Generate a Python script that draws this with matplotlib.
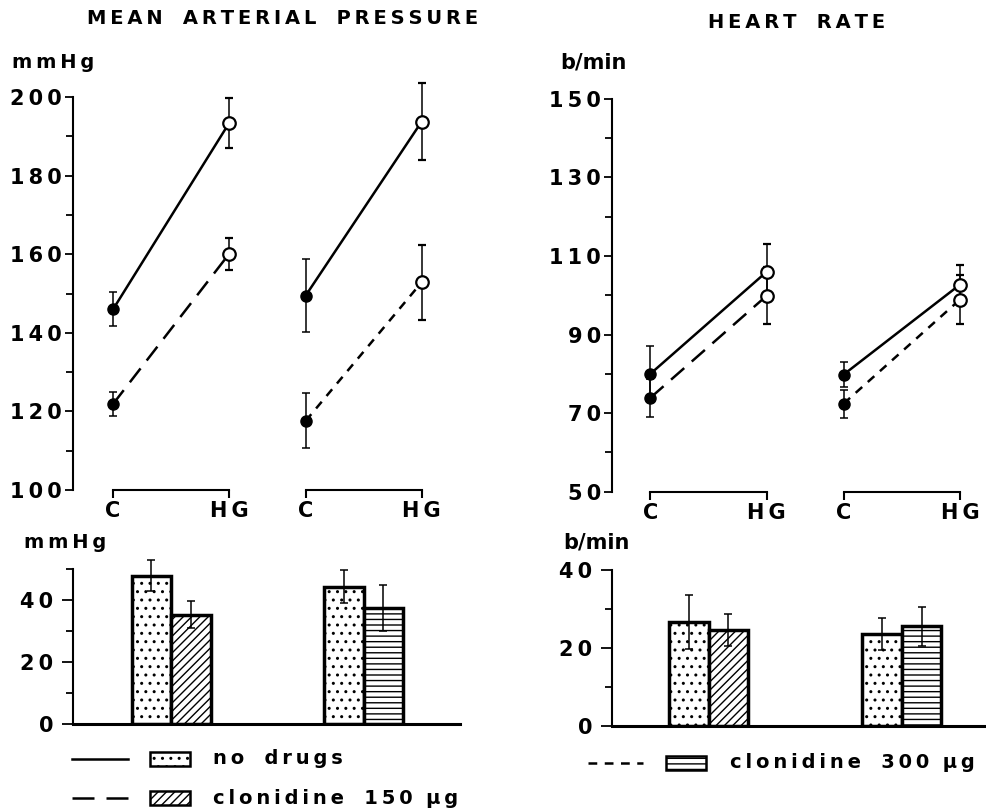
#!/usr/bin/env python3
import matplotlib
matplotlib.use('Agg')
import matplotlib.pyplot as plt
import numpy as np
from matplotlib.lines import Line2D
from matplotlib.patches import Rectangle
from matplotlib.ticker import MultipleLocator

plt.rcParams['font.family'] = 'DejaVu Sans'
plt.rcParams['font.weight'] = 'bold'
plt.rcParams['hatch.linewidth'] = 1.0

# x positions of the two experiments (C and HG)
c_pos = np.array([0.0, 1.66])
hg_pos = c_pos + 1.0
time_labels = ['C', 'HG', 'C', 'HG']

# Mean arterial pressure (mmHg): [exp 1 (vs clonidine 150), exp 2 (vs clonidine 300)]
map_c_nodrug = [146.0, 149.5]
map_c_nodrug_err = [4.3, 9.2]
map_hg_nodrug = [193.4, 193.8]
map_hg_nodrug_err = [6.4, 9.8]
map_c_clon = [121.9, 117.6]
map_c_clon_err = [3.0, 7.0]
map_hg_clon = [160.1, 152.9]
map_hg_clon_err = [4.1, 9.6]

# Heart rate (b/min)
hr_c_nodrug = [80.0, 79.8]
hr_c_nodrug_err = [7.0, 3.2]
hr_hg_nodrug = [106.0, 102.7]
hr_hg_nodrug_err = [7.0, 5.0]
hr_c_clon = [73.9, 72.4]
hr_c_clon_err = [4.9, 3.6]
hr_hg_clon = [99.9, 98.9]
hr_hg_clon_err = [7.2, 6.2]

# Increase during handgrip
map_delta_nodrug = [47.7, 44.2]
map_delta_nodrug_err = [5.0, 5.2]
map_delta_clon = [35.2, 37.4]
map_delta_clon_err = [4.3, 7.4]
hr_delta_nodrug = [26.7, 23.6]
hr_delta_nodrug_err = [7.0, 4.0]
hr_delta_clon = [24.6, 25.6]
hr_delta_clon_err = [4.1, 5.0]

clon_dashes = [(0, (7, 4)), (0, (3.5, 3))]   # 150 ug long dashes, 300 ug short dashes
legend_dashes = [(0, (8.8, 4.8)), (0, (3.5, 3))]
clon_hatch = ['////', '---']
FS = 14


def spaced(s):
    return '\u2009'.join(s)


def unclip(container):
    for part in container.lines:
        if part is None:
            continue
        for a in (part if isinstance(part, tuple) else [part]):
            a.set_clip_on(False)


def line_panel(ax, c_nd, c_nd_e, hg_nd, hg_nd_e, c_cl, c_cl_e, hg_cl, hg_cl_e,
               ylim, major, minor):
    for i in range(2):
        xs = [c_pos[i], hg_pos[i]]
        ax.plot(xs, [c_nd[i], hg_nd[i]], color='black', lw=1.8, zorder=2)
        ax.plot(xs, [c_cl[i], hg_cl[i]], color='black', lw=1.8,
                linestyle=clon_dashes[i], zorder=2)
        eb = ax.errorbar([xs[0]] * 2, [c_nd[i], c_cl[i]], yerr=[c_nd_e[i], c_cl_e[i]],
                         fmt='o', ms=8, color='black', mfc='black', ecolor='black',
                         elinewidth=1.1, capsize=3, capthick=1.1, zorder=3)
        unclip(eb)
        eb = ax.errorbar([xs[1]] * 2, [hg_nd[i], hg_cl[i]], yerr=[hg_nd_e[i], hg_cl_e[i]],
                         fmt='o', ms=9, color='black', mfc='white', mew=1.6,
                         ecolor='black', elinewidth=1.1, capsize=3, capthick=1.1, zorder=3)
        unclip(eb)
        # bracket under each experiment
        ax.plot(xs, [ylim[0], ylim[0]], color='black', lw=1.5, clip_on=False)
    ax.set_ylim(*ylim)
    ax.set_xlim(-0.345, 2.99)
    ax.spines[['top', 'right', 'bottom']].set_visible(False)
    ax.spines['left'].set_linewidth(1.5)
    ax.yaxis.set_minor_locator(MultipleLocator(minor))
    ticks = np.arange(ylim[0], ylim[1] + 1, major)
    ax.set_yticks(ticks)
    ax.set_yticklabels([spaced(str(int(v))) for v in ticks])
    ax.tick_params(axis='y', which='major', length=6, width=1.3, labelsize=FS + 1, pad=2)
    ax.tick_params(axis='y', which='minor', length=5, width=1.3)
    ax.set_xticks([c_pos[0], hg_pos[0], c_pos[1], hg_pos[1]])
    ax.set_xticklabels([spaced(t) for t in time_labels])
    ax.tick_params(axis='x', length=6, width=1.5, labelsize=FS + 1, pad=2)


def bar_panel(ax, nd, nd_e, cl, cl_e, ylim, major, minor):
    centers = (c_pos + hg_pos) / 2
    w = 0.34
    for i in range(2):
        ax.bar(centers[i] - w / 2, nd[i], width=w, facecolor='white', edgecolor='black',
               hatch='..', lw=2.5, zorder=2)
        ax.bar(centers[i] + w / 2, cl[i], width=w, facecolor='white', edgecolor='black',
               hatch=clon_hatch[i], lw=2.5, zorder=2)
        eb = ax.errorbar([centers[i] - w / 2, centers[i] + w / 2], [nd[i], cl[i]],
                         yerr=[nd_e[i], cl_e[i]], fmt='none', ecolor='black',
                         elinewidth=1.1, capsize=3, capthick=1.1, zorder=3)
        unclip(eb)
    ax.set_ylim(*ylim)
    ax.set_xlim(-0.345, 2.99)
    ax.spines[['top', 'right']].set_visible(False)
    ax.spines['left'].set_linewidth(1.5)
    ax.spines['bottom'].set_linewidth(2.2)
    ax.set_xticks([])
    ax.yaxis.set_minor_locator(MultipleLocator(minor))
    ticks = np.arange(0, 41, major)
    ax.set_yticks(ticks)
    ax.set_yticklabels([spaced(str(int(v))) for v in ticks])
    ax.tick_params(axis='y', which='major', length=8, width=1.3, labelsize=FS + 1, pad=6)
    ax.tick_params(axis='y', which='minor', length=5, width=1.3)


W, H = 986, 810
fig = plt.figure(figsize=(W / 100, H / 100), dpi=100)

ax_map = fig.add_axes([73 / W, 0.395, 387 / W, 0.485])
ax_hr = fig.add_axes([612 / W, 0.393, 384 / W, 0.485])
ax_map_d = fig.add_axes([73 / W, 0.106, 387 / W, 0.192])
ax_hr_d = fig.add_axes([612 / W, 0.104, 384 / W, 0.192])

line_panel(ax_map, map_c_nodrug, map_c_nodrug_err, map_hg_nodrug, map_hg_nodrug_err,
           map_c_clon, map_c_clon_err, map_hg_clon, map_hg_clon_err, (100, 200), 20, 10)
line_panel(ax_hr, hr_c_nodrug, hr_c_nodrug_err, hr_hg_nodrug, hr_hg_nodrug_err,
           hr_c_clon, hr_c_clon_err, hr_hg_clon, hr_hg_clon_err, (50, 150), 20, 10)
ax_hr.set_xlim(-0.33, 2.97)

bar_panel(ax_map_d, map_delta_nodrug, map_delta_nodrug_err, map_delta_clon,
          map_delta_clon_err, (0, 50), 20, 10)
bar_panel(ax_hr_d, hr_delta_nodrug, hr_delta_nodrug_err, hr_delta_clon,
          hr_delta_clon_err, (0, 40), 20, 10)
ax_hr_d.set_xlim(-0.33, 2.97)

# titles and units
fig.text(283 / W, 1 - 18 / H, '   '.join(spaced(w) for w in 'MEAN ARTERIAL PRESSURE'.split()),
         ha='center', va='center', fontsize=FS)
fig.text(797 / W, 1 - 22 / H, '   '.join(spaced(w) for w in 'HEART RATE'.split()),
         ha='center', va='center', fontsize=FS)
fig.text(12 / W, 1 - 63 / H, spaced('mmHg'), ha='left', va='center', fontsize=FS)
fig.text(560 / W, 1 - 63 / H, 'b/min', ha='left', va='center', fontsize=FS + 1)
fig.text(24 / W, 1 - 542 / H, spaced('mmHg'), ha='left', va='center', fontsize=FS)
fig.text(563 / W, 1 - 542 / H, 'b/min', ha='left', va='center', fontsize=FS + 1)


# legend drawn by hand in figure pixels
def legend_row(x_line, x_box, x_text, y, ls, hatch, label):
    yf = 1 - y / H
    fig.add_artist(Line2D([x_line[0] / W, x_line[1] / W], [yf, yf], color='black',
                          lw=1.8, linestyle=ls, transform=fig.transFigure))
    fig.add_artist(Rectangle((x_box / W, yf - 7 / H), 40 / W, 14 / H, facecolor='white',
                             edgecolor='black', hatch=hatch, lw=1.8,
                             transform=fig.transFigure))
    fig.text(x_text / W, yf, label, ha='left', va='center', fontsize=FS)


legend_row((72, 128), 150, 213, 759, '-', '..', spaced('no') + '   ' + spaced('drugs'))
legend_row((72, 128), 150, 213, 798, legend_dashes[0], clon_hatch[0],
           spaced('clonidine') + '   ' + spaced('150') + '  ' + spaced('µg'))
legend_row((588, 643), 666, 730, 763, legend_dashes[1], clon_hatch[1],
           spaced('clonidine') + '   ' + spaced('300') + '  ' + spaced('µg'))

fig.savefig('out.png', dpi=100)
print('saved out.png')
